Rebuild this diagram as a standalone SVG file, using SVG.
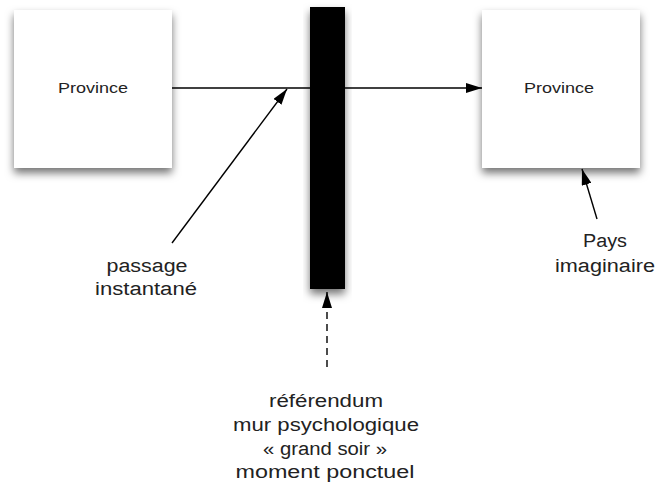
<svg xmlns="http://www.w3.org/2000/svg" width="658" height="487" viewBox="0 0 658 487">
<defs>
<filter id="sh" x="-20%" y="-20%" width="140%" height="140%">
<feDropShadow dx="0" dy="5" stdDeviation="4" flood-color="#000" flood-opacity="0.55"/>
</filter>
<marker id="ah" markerWidth="16" markerHeight="10" refX="16" refY="5" orient="auto" markerUnits="userSpaceOnUse">
<path d="M0,0 L16,5 L0,10 Z" fill="#000"/>
</marker>
<style>
.box{fill:#fff;filter:url(#sh)}
.t{font-family:"Liberation Sans",Arial,sans-serif;fill:#222;text-anchor:middle}
.bt{font-size:15px}
.lt{font-size:18px}
.c{stroke:#000;stroke-width:1.4;fill:none;marker-end:url(#ah)}
</style>
</defs>
<rect width="658" height="487" fill="#fff"/>
<g id="connectors">
<line class="c" x1="172" y1="88" x2="482" y2="88"/>
<line class="c" x1="172" y1="243" x2="287" y2="89"/>
<line class="c" x1="597" y1="219" x2="582" y2="169"/>
<line class="c" x1="327" y1="367" x2="327" y2="292" stroke-dasharray="7,5"/>
</g>
<g id="wall">
<rect x="310" y="7" width="35" height="282" fill="#000" filter="url(#sh)"/>
</g>
<g id="province-left">
<rect class="box" x="14" y="10" width="158" height="158"/>
<text class="t bt" x="93" y="93" textLength="70" lengthAdjust="spacingAndGlyphs">Province</text>
</g>
<g id="province-right">
<rect class="box" x="482" y="10" width="158" height="158"/>
<text class="t bt" x="559" y="93" textLength="70" lengthAdjust="spacingAndGlyphs">Province</text>
</g>
<g id="label-passage">
<text class="t lt" x="147" y="272" textLength="81" lengthAdjust="spacingAndGlyphs">passage</text>
<text class="t lt" x="146" y="295" textLength="102" lengthAdjust="spacingAndGlyphs">instantané</text>
</g>
<g id="label-pays">
<text class="t lt" x="605" y="247" textLength="44" lengthAdjust="spacingAndGlyphs">Pays</text>
<text class="t lt" x="605" y="272" textLength="100" lengthAdjust="spacingAndGlyphs">imaginaire</text>
</g>
<g id="label-referendum">
<text class="t lt" x="326" y="407" textLength="114" lengthAdjust="spacingAndGlyphs">référendum</text>
<text class="t lt" x="326" y="431" textLength="186" lengthAdjust="spacingAndGlyphs">mur psychologique</text>
<text class="t lt" x="325" y="455" textLength="124" lengthAdjust="spacingAndGlyphs">« grand soir »</text>
<text class="t lt" x="325" y="478" textLength="179" lengthAdjust="spacingAndGlyphs">moment ponctuel</text>
</g>
</svg>
